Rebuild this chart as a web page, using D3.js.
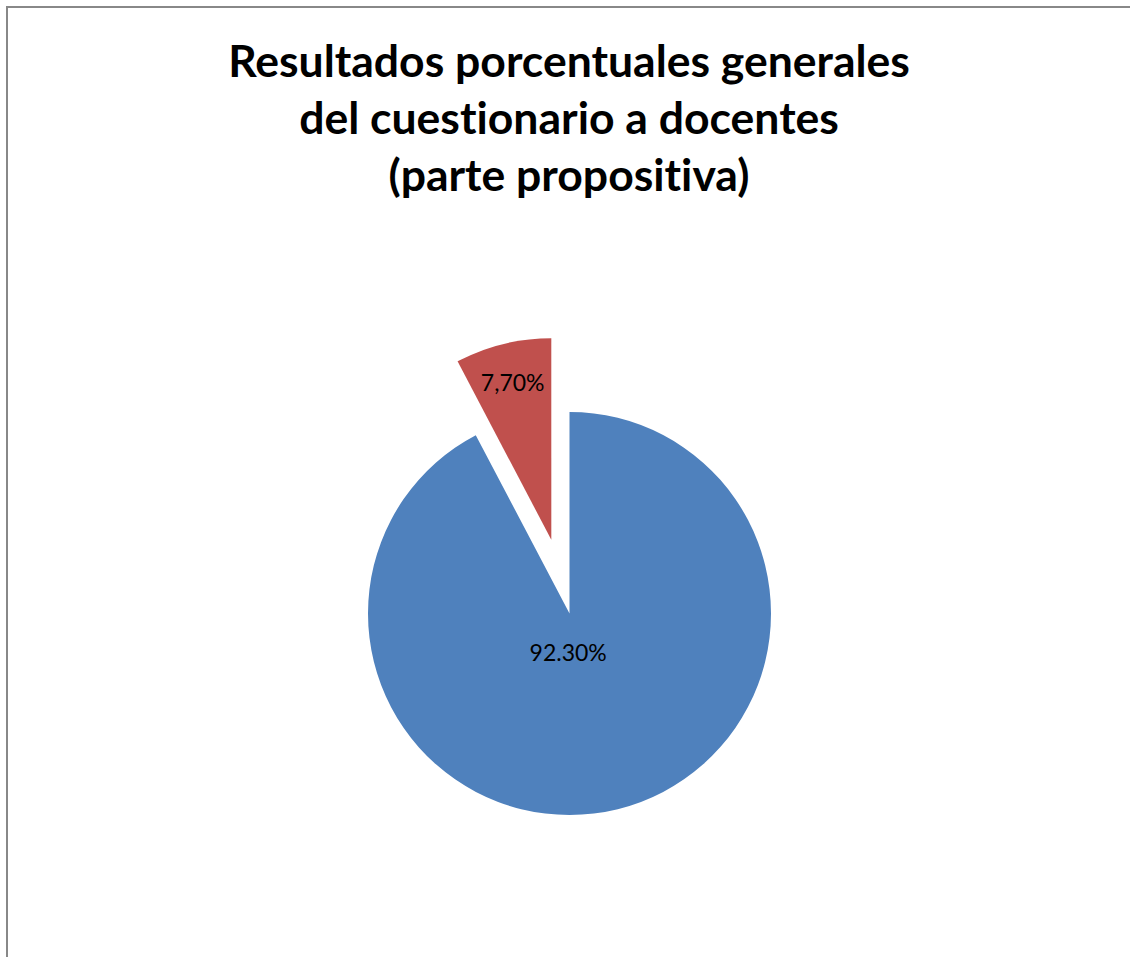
<!DOCTYPE html>
<html>
<head>
<meta charset="utf-8">
<script src="https://cdn.jsdelivr.net/npm/d3@7"></script>
<style>
  html, body { margin: 0; padding: 0; background: #fff; }
  svg { display: block; }
  text { font-variant-ligatures: none; }
</style>
</head>
<body>
<script>
// Chart data
const categories = ["Favorable", "Desfavorable"];
const values = [92.3, 7.7];
const labels = ["92.30%", "7,70%"];
const colors = ["#4f81bd", "#c0504d"];
const titleLines = [
  "Resultados porcentuales generales",
  "del cuestionario a docentes",
  "(parte propositiva)"
];

const W = 1130, H = 957;
const cx = 569.5, cy = 613.5, R = 201.5;
const explode = [0, 76];       // slice pull-out distance
const labelPos = [0.2, 0.8];   // label distance as fraction of radius
const labelDx = [-11, 0];

const svg = d3.select("body").append("svg")
  .attr("width", W).attr("height", H);

// frame
svg.append("path")
  .attr("d", `M7,${H} V7 H${W}`)
  .attr("fill", "none")
  .attr("stroke", "#888")
  .attr("stroke-width", 2);

// title
svg.append("text")
  .attr("text-anchor", "middle")
  .attr("font-family", "Lato, 'Open Sans', sans-serif")
  .attr("font-weight", "bold")
  .attr("font-size", 44.5)
  .attr("fill", "#000")
  .selectAll("tspan")
  .data(titleLines)
  .join("tspan")
  .attr("x", W / 2 + 4)
  .attr("y", (d, i) => 77 + i * 57)
  .text(d => d);

const pie = d3.pie().sort(null).value(d => d)(values);
const arc = d3.arc().innerRadius(0).outerRadius(R);

const g = svg.append("g").attr("transform", `translate(${cx},${cy})`);

const slices = g.selectAll("g.slice")
  .data(pie)
  .join("g")
  .attr("class", "slice")
  .attr("transform", (d, i) => {
    const a = (d.startAngle + d.endAngle) / 2;
    return `translate(${Math.sin(a) * explode[i]},${-Math.cos(a) * explode[i]})`;
  });

slices.append("path")
  .attr("d", arc)
  .attr("fill", (d, i) => colors[i]);

slices.append("text")
  .attr("transform", (d, i) => {
    const a = (d.startAngle + d.endAngle) / 2;
    const r = R * labelPos[i];
    return `translate(${Math.sin(a) * r + labelDx[i]},${-Math.cos(a) * r})`;
  })
  .attr("text-anchor", "middle")
  .attr("dy", "0.35em")
  .attr("font-family", "Lato, 'Open Sans', sans-serif")
  .attr("font-size", 23)
  .attr("fill", "#000")
  .text((d, i) => labels[i]);
</script>
</body>
</html>
